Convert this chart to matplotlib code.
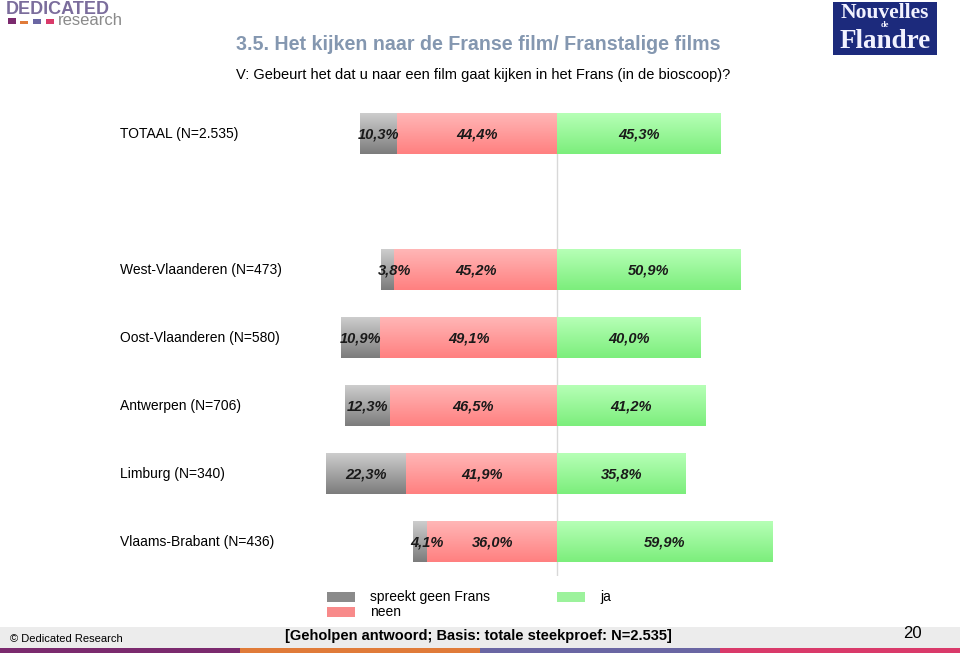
import numpy as np
import matplotlib
matplotlib.use('Agg')
import matplotlib.pyplot as plt
from matplotlib.colors import LinearSegmentedColormap
from matplotlib.patches import Rectangle

plt.rcParams['font.family'] = ['Liberation Sans', 'DejaVu Sans']

# data
labels = ['TOTAAL (N=2.535)', 'West-Vlaanderen (N=473)', 'Oost-Vlaanderen (N=580)',
          'Antwerpen (N=706)', 'Limburg (N=340)', 'Vlaams-Brabant (N=436)']
rows = [0, 2, 3, 4, 5, 6]   # row 1 left empty as in the original
geen = [10.3, 3.8, 10.9, 12.3, 22.3, 4.1]
neen = [44.4, 45.2, 49.1, 46.5, 41.9, 36.0]
ja = [45.3, 50.9, 40.0, 41.2, 35.8, 59.9]
legend_names = ['spreekt geen Frans', 'neen', 'ja']

W, H = 960, 654
fig = plt.figure(figsize=(W / 100, H / 100), dpi=100)

def fx(px):
    return px / W

def fy(py):
    return 1 - py / H

# bar axes: zero line at x=557px, 3.6 px per percent, rows 68 px apart
ax_l, ax_r, ax_t, ax_b = 320, 800, 100, 576
ax = fig.add_axes([fx(ax_l), fy(ax_b), fx(ax_r - ax_l), (ax_b - ax_t) / H])
ax.set_axis_off()
x0 = (ax_l - 557) / 3.6
x1 = (ax_r - 557) / 3.6

cmaps = {
    'geen': LinearSegmentedColormap.from_list('g', ['#cdcdcd', '#7c7c7c']),
    'neen': LinearSegmentedColormap.from_list('n', ['#ffb6b6', '#ff8080']),
    'ja': LinearSegmentedColormap.from_list('j', ['#b6ffb6', '#7cee7c']),
}
grad = np.linspace(0, 1, 64).reshape(-1, 1)
h = 0.6

def gbar(left, width, y, cmap):
    ax.imshow(grad, cmap=cmap, aspect='auto', origin='upper',
              extent=[left, left + width, y + h / 2, y - h / 2],
              interpolation='bicubic', zorder=2)

ax.plot([0, 0], [-0.3, 6.5], color='#d8d8d8', lw=1, zorder=1)

def pct(v):
    return f'{v:.1f}%'.replace('.', ',')

for r, g, n, j in zip(rows, geen, neen, ja):
    gbar(-n - g, g, r, cmaps['geen'])
    gbar(-n, n, r, cmaps['neen'])
    gbar(0, j, r, cmaps['ja'])
    style = dict(ha='center', va='center', fontsize=10.5, fontweight='bold',
                 fontstyle='italic', color='#1a1a1a', zorder=3)
    gx = -n - g / 2
    if g < 6:
        gx = -n - g / 2 + 2
    ax.text(gx, r, pct(g), **style)
    ax.text(-n / 2, r, pct(n), **style)
    ax.text(j / 2, r, pct(j), **style)

ax.set_xlim(x0, x1)
ax.set_ylim(6.5, -0.5)

for r, lab in zip(rows, labels):
    fig.text(fx(120), fy(134 + 68 * r), lab, ha='left', va='center', fontsize=10)

# titles
fig.text(fx(236), fy(45), '3.5. Het kijken naar de Franse film/ Franstalige films',
         fontsize=14.1, fontweight='bold', color='#8497b0', va='center')
fig.text(fx(236), fy(75), 'V: Gebeurt het dat u naar een film gaat kijken in het Frans (in de bioscoop)?',
         fontsize=10.5, va='center')

# legend
leg_colors = ['#8a8a8a', '#f88a8a', '#9cf29c']
leg_pos = [(327, 597), (327, 612), (557, 597)]
for (px, py), c, name in zip(leg_pos, leg_colors, legend_names):
    fig.patches.append(Rectangle((fx(px), fy(py + 5)), fx(28), 10 / H,
                                 transform=fig.transFigure, facecolor=c,
                                 edgecolor='none'))
    fig.text(fx(px + 43), fy(py), name, fontsize=10, va='center')

# footer band
fig.patches.append(Rectangle((0, fy(648)), 1, 21 / H, transform=fig.transFigure,
                             facecolor='#ececec', edgecolor='none'))
stripe = ['#7b2a6e', '#e07b39', '#6a66a3', '#d93a6a']
for i, c in enumerate(stripe):
    fig.patches.append(Rectangle((i / 4, fy(653)), 0.25, 5 / H, transform=fig.transFigure,
                                 facecolor=c, edgecolor='none'))
fig.text(fx(10), fy(639), '\u00a9 Dedicated Research', fontsize=8, va='center')
fig.text(fx(478), fy(636), '[Geholpen antwoord; Basis: totale steekproef: N=2.535]',
         fontsize=10.5, fontweight='bold', ha='center', va='center')
fig.text(fx(912), fy(634), '20', fontsize=12, ha='center', va='center')

# logos
fig.text(fx(6), fy(1), 'DEDICATED', fontsize=13, fontweight='bold', color='#7b6d9c', va='top')
fig.text(fx(58), fy(25), 'research', fontsize=12, color='#8a8a8a', va='baseline')
for px, c, hh in [(8, '#7b2a6e', 6), (20, '#e07b39', 3), (33, '#6a66a3', 5), (46, '#d93a6a', 5)]:
    fig.patches.append(Rectangle((fx(px), fy(24)), fx(8), hh / H,
                                 transform=fig.transFigure, facecolor=c, edgecolor='none'))

fig.patches.append(Rectangle((fx(833), fy(55)), fx(104), 53 / H, transform=fig.transFigure,
                             facecolor='#1c2a7c', edgecolor='none'))
serif = dict(fontweight='bold', family='Liberation Serif', color='#f2f2ff',
             ha='center', va='baseline')
fig.text(fx(885), fy(18), 'Nouvelles', fontsize=15.5, **serif)
fig.text(fx(885), fy(27), 'de', fontsize=6, **serif)
fig.text(fx(885), fy(48), 'Flandre', fontsize=19.5, **serif)

fig.savefig('out.png', dpi=100)
